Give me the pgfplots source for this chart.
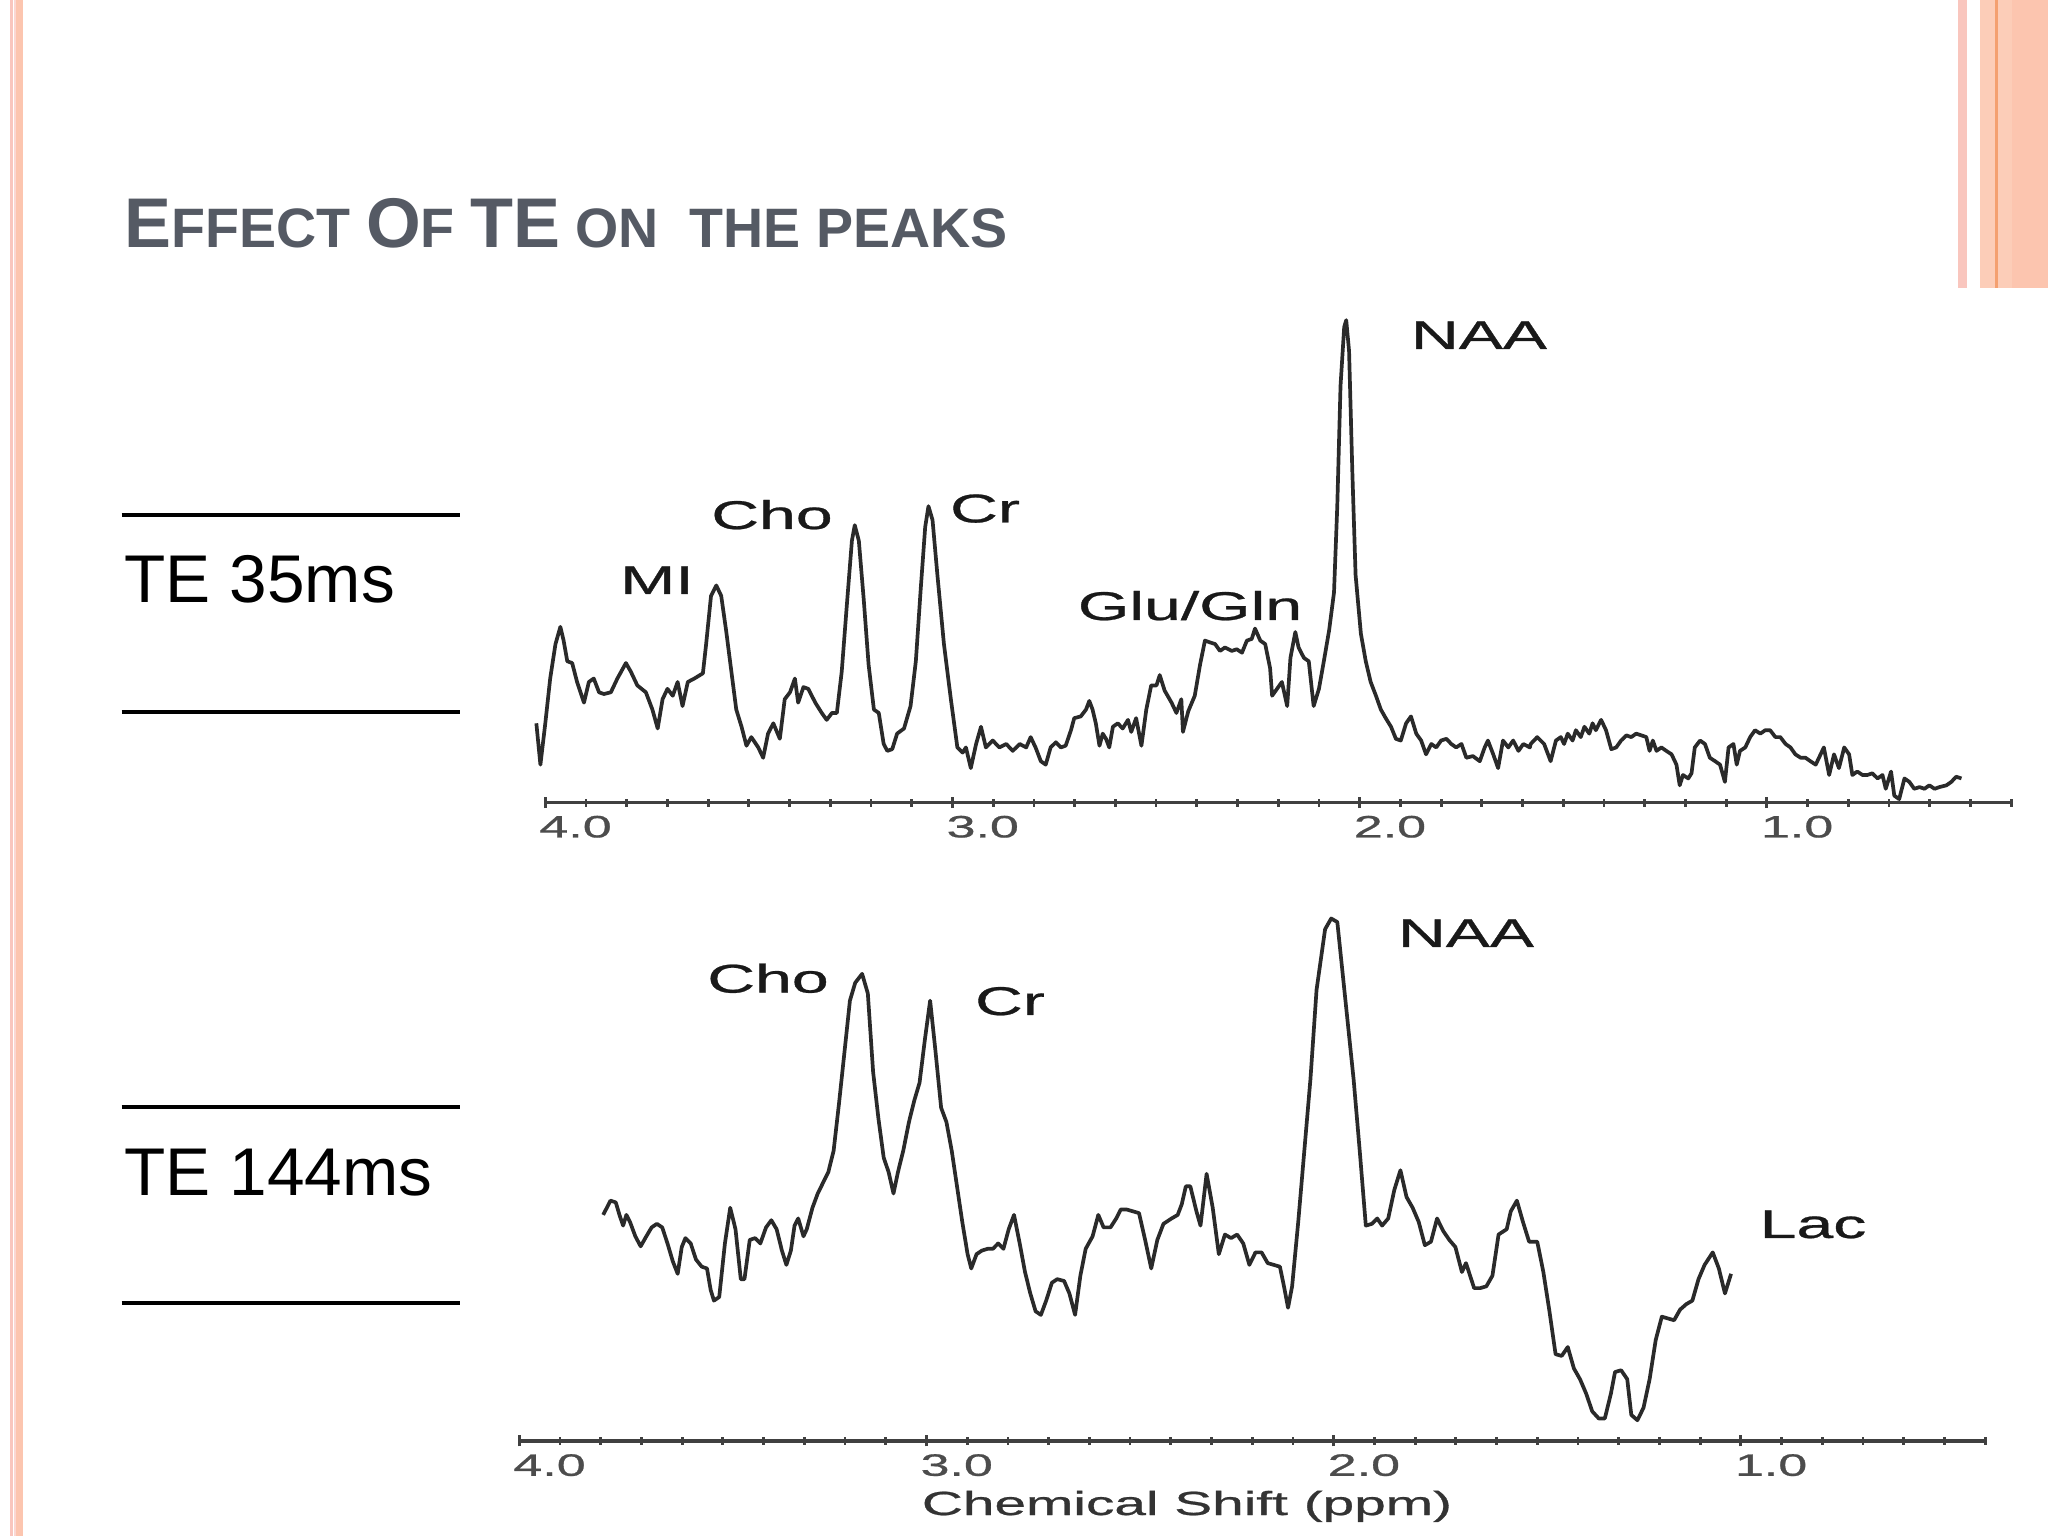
\documentclass[border=0pt]{standalone}
\usepackage{fontspec}
\setmainfont{Liberation Sans}
\newfontfamily\labfont{Liberation Sans}[FakeBold=0.6]
\usepackage{pgfplots}
\pgfplotsset{compat=1.18}
\definecolor{peach}{HTML}{FCC5AF}
\definecolor{peachlt}{HTML}{FCCDB8}
\definecolor{pinkln}{HTML}{F9C6BE}
\definecolor{orgln}{HTML}{F4A070}
\definecolor{titlec}{HTML}{555A64}
\definecolor{spec}{HTML}{2A2A2A}
\newcommand{\BigL}[1]{{\fontsize{20}{24}\selectfont #1}}
\pgfplotsset{
  spec axis/.style={
    scale only axis, width=14.65cm,
    xmin=0.4, xmax=4.0, x dir=reverse,
    axis x line*=bottom, axis y line=none, clip=false,
    xtick={1,2,3,4}, minor xtick={0.4,0.5,...,4.0},
    xticklabel={\pgfmathprintnumber[fixed,fixed zerofill,precision=1,assume math mode=true]{\tick}},
    xticklabel style={font=\labfont\fontsize{8.8}{10}\selectfont, text=black!70, xscale=1.68, xshift=0.18cm, inner sep=2pt},
    tick align=center, major tick length=0.11cm, minor tick length=0.08cm,
    every tick/.style={black!75, line width=0.8pt},
    x axis line style={black!75, line width=0.9pt},
  }
}
\tikzset{lab/.style={anchor=base, inner sep=0, font=\labfont\fontsize{11.4}{13}\selectfont, xscale=1.65, text=black!90}}
\begin{document}
\begin{tikzpicture}
\begin{scope}[x=0.01cm,y=0.01cm]
\useasboundingbox (0,0) rectangle (2048,1536);
\fill[white] (0,0) rectangle (2048,1536);
% left stripes
\fill[pinkln] (10,0) rectangle (12.5,1536);
\fill[pinkln!70] (14,0) rectangle (16,1536);
\fill[peach] (16,0) rectangle (23,1536);
% right block
\fill[pinkln] (1958,1248) rectangle (1967,1536);
\fill[peachlt] (1980,1248) rectangle (2048,1536);
\fill[peach] (2012,1248) rectangle (2048,1536);
\fill[orgln] (1995,1248) rectangle (1997.5,1536);
% title
\node[anchor=base west, inner sep=0, text=titlec, font=\bfseries\fontsize{15.8}{18}\selectfont] at (124,1288) {\BigL{E}FFECT \BigL{O}F \BigL{TE} ON\ \ THE PEAKS};
% TE labels
\draw[line width=0.04cm] (121.5,1021.4) -- (459.7,1021.4);
\draw[line width=0.04cm] (121.5,824.2) -- (459.7,824.2);
\draw[line width=0.04cm] (121.5,428.5) -- (459.7,428.5);
\draw[line width=0.04cm] (121.5,233) -- (459.7,233);
\node[anchor=base west, inner sep=0, font=\fontsize{19.2}{23}\selectfont] at (124,933) {TE 35ms};
\node[anchor=base west, inner sep=0, font=\fontsize{19.2}{23}\selectfont] at (124,340) {TE 144ms};
% peak labels
\node[lab] at (1479,1187) {NAA};
\node[lab] at (985,1013.6) {Cr};
\node[lab] at (772,1007) {Cho};
\node[lab] at (657,942) {MI};
\node[lab] at (1190,916) {Glu/Gln};
\node[lab] at (1466,589) {NAA};
\node[lab] at (768,543.4) {Cho};
\node[lab] at (1010,521) {Cr};
\node[lab] at (1813,298) {Lac};
\node[anchor=base, inner sep=0, font=\labfont\fontsize{9.5}{11}\selectfont, xscale=1.7, text=black!80] at (1187,21) {Chemical Shift (ppm)};
\end{scope}
% top spectrum TE 35 ms
\begin{axis}[spec axis, at={(5.45cm,7.33cm)}, anchor=south west, height=5.028cm, ymin=0, ymax=1460]
\addplot[spec, line width=1.05pt, line join=round] coordinates {
(4.022,230)(4.012,110)(4.000,230)(3.988,360)(3.975,460)(3.963,510)(3.955,470)(3.946,410)(3.934,405)(3.922,350)(3.905,290)(3.893,350)(3.881,360)(3.868,320)(3.856,315)(3.839,320)(3.823,360)(3.802,405)(3.790,380)(3.774,340)(3.753,320)(3.737,270)(3.724,215)(3.712,300)(3.700,330)(3.687,310)(3.675,350)(3.663,280)(3.650,350)(3.634,360)(3.613,375)(3.605,460)(3.593,600)(3.580,630)(3.568,600)(3.556,500)(3.543,380)(3.531,270)(3.518,220)(3.506,165)(3.494,190)(3.477,160)(3.465,130)(3.453,200)(3.440,230)(3.424,185)(3.412,300)(3.399,320)(3.387,360)(3.379,290)(3.366,335)(3.354,330)(3.337,290)(3.321,260)(3.309,240)(3.296,260)(3.284,260)(3.272,380)(3.259,580)(3.247,760)(3.240,805)(3.230,760)(3.218,590)(3.206,400)(3.193,270)(3.181,260)(3.169,170)(3.160,150)(3.148,155)(3.136,200)(3.119,215)(3.103,280)(3.090,410)(3.078,620)(3.067,800)(3.059,860)(3.049,820)(3.037,660)(3.021,460)(3.004,300)(2.988,160)(2.975,145)(2.967,160)(2.955,100)(2.942,170)(2.930,220)(2.918,160)(2.901,180)(2.885,160)(2.868,170)(2.852,150)(2.835,170)(2.819,160)
(2.808,190)(2.796,160)(2.783,120)(2.771,110)(2.759,160)(2.746,175)(2.734,160)(2.722,165)(2.709,210)(2.701,245)(2.685,250)(2.672,270)(2.664,295)(2.656,270)(2.648,230)(2.639,165)(2.631,200)(2.623,185)(2.615,160)(2.606,220)(2.594,230)(2.582,215)(2.569,240)(2.561,205)(2.549,245)(2.536,165)(2.524,270)(2.512,340)(2.499,340)(2.491,370)(2.479,325)(2.462,290)(2.450,260)(2.438,300)(2.434,205)(2.421,265)(2.405,310)(2.392,400)(2.380,470)(2.368,465)(2.355,460)(2.343,440)(2.331,450)(2.314,440)(2.302,445)(2.289,435)(2.277,470)(2.265,475)(2.257,505)(2.244,470)(2.232,460)(2.220,390)(2.215,310)(2.203,330)(2.191,350)(2.178,280)(2.170,420)(2.158,495)(2.150,450)(2.137,420)(2.125,410)(2.113,280)(2.100,330)(2.088,410)(2.075,500)(2.063,610)(2.055,860)(2.047,1210)(2.038,1380)(2.033,1400)(2.026,1310)(2.018,960)(2.010,660)(1.997,490)(1.985,410)(1.973,350)(1.960,310)(1.948,270)(1.936,245)(1.923,220)(1.911,185)(1.899,180)(1.886,230)(1.874,250)(1.861,200)(1.849,180)(1.837,140)(1.824,170)(1.812,160)(1.800,180)(1.787,185)(1.775,170)(1.763,160)(1.750,170)(1.738,130)(1.722,135)(1.705,120)(1.693,160)(1.685,180)(1.672,140)(1.660,100)(1.648,180)(1.635,160)(1.623,180)(1.610,150)(1.598,170)(1.582,160)
(1.580,170)(1.564,190)(1.547,170)(1.531,120)(1.518,180)(1.506,190)(1.498,170)(1.489,200)(1.477,180)(1.469,210)(1.457,190)(1.448,220)(1.436,200)(1.428,230)(1.420,210)(1.407,240)(1.395,210)(1.382,155)(1.370,160)(1.358,180)(1.345,195)(1.333,190)(1.321,200)(1.308,195)(1.296,190)(1.288,150)(1.280,180)(1.271,150)(1.259,160)(1.247,150)(1.234,140)(1.222,110)(1.214,50)(1.206,80)(1.193,70)(1.185,85)(1.177,160)(1.164,180)(1.152,170)(1.140,130)(1.127,120)(1.115,110)(1.103,60)(1.094,160)(1.082,170)(1.074,110)(1.066,150)(1.053,160)(1.041,190)(1.029,210)(1.016,200)(1.004,210)(0.992,210)(0.979,190)(0.967,190)(0.954,170)(0.942,160)(0.930,140)(0.917,130)(0.905,130)(0.893,120)(0.880,110)(0.872,130)(0.860,160)(0.847,80)(0.835,140)(0.823,100)(0.810,160)(0.798,140)(0.790,80)(0.778,90)(0.765,80)(0.753,80)(0.741,85)(0.728,70)(0.716,80)(0.708,40)(0.695,90)(0.687,20)(0.675,10)(0.662,70)(0.650,60)(0.638,40)(0.625,45)(0.613,40)(0.601,50)(0.588,40)(0.576,45)(0.559,50)(0.547,60)(0.535,75)(0.522,70)
};
\end{axis}
% bottom spectrum TE 144 ms
\begin{axis}[spec axis, at={(5.19cm,0.95cm)}, anchor=south west, height=5.40cm, ymin=0, ymax=1513]
\addplot[spec, line width=1.05pt, line join=round] coordinates {
(3.794,633)(3.785,653)(3.776,673)(3.763,668)(3.754,633)(3.745,603)(3.737,633)(3.728,613)(3.715,573)(3.702,545)(3.688,573)(3.675,598)(3.662,608)(3.649,598)(3.636,553)(3.623,503)(3.611,468)(3.601,543)(3.592,568)(3.579,553)(3.566,508)(3.552,488)(3.539,483)(3.530,423)(3.522,393)(3.509,403)(3.495,553)(3.482,653)(3.469,593)(3.456,453)(3.447,453)(3.434,563)(3.421,568)(3.408,553)(3.394,598)(3.381,618)(3.368,593)(3.355,533)(3.344,493)(3.333,533)(3.324,603)(3.315,623)(3.302,573)(3.294,593)(3.280,653)(3.267,693)(3.254,723)(3.241,753)(3.228,813)(3.215,943)(3.201,1093)(3.188,1233)(3.175,1283)(3.158,1308)(3.144,1253)(3.131,1033)(3.118,903)(3.105,793)(3.093,753)(3.081,693)(3.070,753)(3.057,813)(3.043,893)(3.030,953)(3.017,1003)(3.004,1123)(2.991,1233)(2.978,1093)(2.964,933)(2.951,893)(2.938,813)(2.925,713)(2.912,613)(2.899,523)(2.890,483)(2.877,523)(2.864,533)(2.850,538)(2.837,538)(2.824,553)(2.811,538)(2.798,593)(2.785,633)(2.771,553)(2.758,473)(2.745,413)(2.732,363)(2.719,353)(2.706,393)(2.692,443)(2.679,453)(2.662,448)(2.649,413)(2.635,353)(2.622,463)(2.609,538)(2.592,573)(2.578,633)(2.565,598)(2.548,598)(2.534,623)
(2.523,648)(2.508,648)(2.493,643)(2.478,638)(2.463,563)(2.448,483)(2.433,563)(2.418,608)(2.398,623)(2.383,633)(2.373,663)(2.363,713)(2.352,713)(2.337,643)(2.327,603)(2.312,748)(2.297,653)(2.282,523)(2.267,578)(2.252,568)(2.237,578)(2.222,553)(2.207,493)(2.192,528)(2.177,528)(2.162,498)(2.147,493)(2.132,488)(2.122,433)(2.112,373)(2.102,433)(2.087,613)(2.072,813)(2.057,1013)(2.042,1263)(2.021,1433)(2.006,1463)(1.991,1453)(1.971,1233)(1.951,1013)(1.936,813)(1.921,603)(1.906,608)(1.893,623)(1.881,603)(1.866,623)(1.851,703)(1.836,758)(1.821,683)(1.806,653)(1.791,613)(1.776,548)(1.761,558)(1.746,623)(1.731,588)(1.716,563)(1.701,543)(1.685,473)(1.675,498)(1.665,463)(1.655,428)(1.640,428)(1.625,433)(1.610,463)(1.595,578)(1.575,593)(1.565,643)(1.550,673)(1.535,613)(1.520,558)(1.500,558)(1.485,473)(1.470,363)(1.455,243)(1.440,238)(1.425,263)(1.410,203)(1.395,173)(1.380,133)(1.365,83)(1.349,63)(1.334,63)(1.319,133)(1.309,193)(1.294,198)(1.279,173)(1.269,73)(1.254,58)(1.239,93)(1.224,173)(1.209,283)(1.194,348)(1.179,343)(1.164,338)(1.149,368)(1.134,383)(1.119,393)(1.104,453)(1.089,493)(1.069,528)(1.054,483)(1.039,413)(1.024,468)
};
\end{axis}
\end{tikzpicture}
\end{document}
